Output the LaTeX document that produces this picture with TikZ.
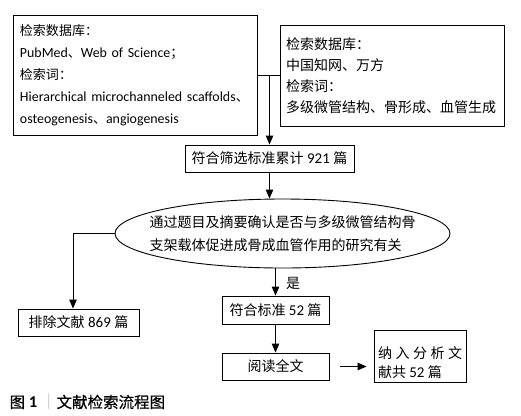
\documentclass[tikz,border=0pt]{standalone}
\usepackage{fontspec}
\setmainfont{Carlito}[Scale=1.07]
\newfontfamily\zh{Noto Sans CJK SC}
\newfontfamily\zhb{Noto Sans CJK SC}[FakeBold=0.5]
\usetikzlibrary{arrows.meta,shapes.geometric,calc}
\tikzset{
  box/.style={draw, line width=0.9bp, rectangle, inner sep=0pt, font=\fontsize{14bp}{21bp}\selectfont},
  ell/.style={draw, line width=0.9bp, ellipse, inner sep=0pt},
  arr/.style={draw, line width=0.9bp, -{Triangle[length=9bp,width=7.5bp]}},
  ln/.style={draw, line width=0.9bp},
  lbl/.style={inner sep=0pt, font=\fontsize{14bp}{17bp}\selectfont}
}
\begin{document}
\begin{tikzpicture}[x=1bp,y=-1bp]
\path[use as bounding box] (0,0) rectangle (521,415);

\node[box, minimum width=244bp, minimum height=120bp, text width=230bp, inner xsep=7bp, align=left,
      font=\fontsize{13bp}{22bp}\selectfont] (b1) at (135,75)
  {{\zh 检索数据库：}\\PubMed{\zh 、}Web of Science{\zh ；}\\{\zh 检索词：}\\Hierarchical microchanneled scaffolds{\zh 、}\\osteogenesis{\zh 、}angiogenesis};

\node[box, minimum width=224bp, minimum height=101bp, text width=212bp, inner xsep=6bp, align=left] (b2) at (392,75.5)
  {{\zh 检索数据库：}\\{\zh 中国知网、万方}\\{\zh 检索词：}\\{\zh 多级微管结构、骨形成、血管生成}};

\node[box, minimum width=169bp, minimum height=27bp] (b3) at (269.5,158.5)
  {{\zh 符合筛选标准累计} 921 {\zh 篇}};

\node[ell, minimum width=335bp, minimum height=69bp] (ell) at (282.5,233.5) {};
\node[lbl, align=left, font=\fontsize{14bp}{23bp}\selectfont] (ellt) at (ell.center)
  {{\zh 通过题目及摘要确认是否与多级微管结构骨}\\{\zh 支架载体促进成骨成血管作用的研究有关}};

\node[box, minimum width=121bp, minimum height=27bp] (b4) at (78.5,322.5)
  {{\zh 排除文献} 869 {\zh 篇}};

\node[box, minimum width=107bp, minimum height=28bp] (b5) at (275.5,310)
  {{\zh 符合标准} 52 {\zh 篇}};

\node[box, minimum width=107bp, minimum height=27bp] (b6) at (275.5,366.5)
  {{\zh 阅读全文}};

\node[box, minimum width=92bp, minimum height=52bp] (b7) at (420,356.5) {};
\node[lbl, align=left, font=\fontsize{14bp}{18.5bp}\selectfont] (b7t) at ([yshift=-6bp]b7.center)
  {\hbox to 84bp{\zh 纳\hfill 入\hfill 分\hfill 析\hfill 文}\\{\zh 献共} 52 {\zh 篇}};

\node[lbl] (yes) at (293,283) {\zh 是};

\node[anchor=west, inner sep=0pt, font=\fontsize{15.5bp}{18bp}\selectfont] (cap) at (9.5,402)
  {{\zhb 图} \textbf{1} {\zh\color{gray!60}｜}{\zhb 文献检索流程图}};

% connectors
\draw[ln] (b1.east) -- (b1.east -| b2.west);
\coordinate (j) at (b3.north |- b1.east);
\draw[arr] (j) -- (b3.north);
\draw[arr] (b3.south) -- (b3.south |- ell.north);
\coordinate (k) at (73,233.5);
\draw[arr] (ell.west) -- (k) -- (k |- b4.north);
\draw[arr] (b5.north |- ell.south) -- (b5.north);
\draw[arr] (b5.south) -- (b6.north);
\draw[arr, shorten <=11bp, shorten >=7bp] (b6.east) -- (b6.east -| b7.west);
\end{tikzpicture}
\end{document}
